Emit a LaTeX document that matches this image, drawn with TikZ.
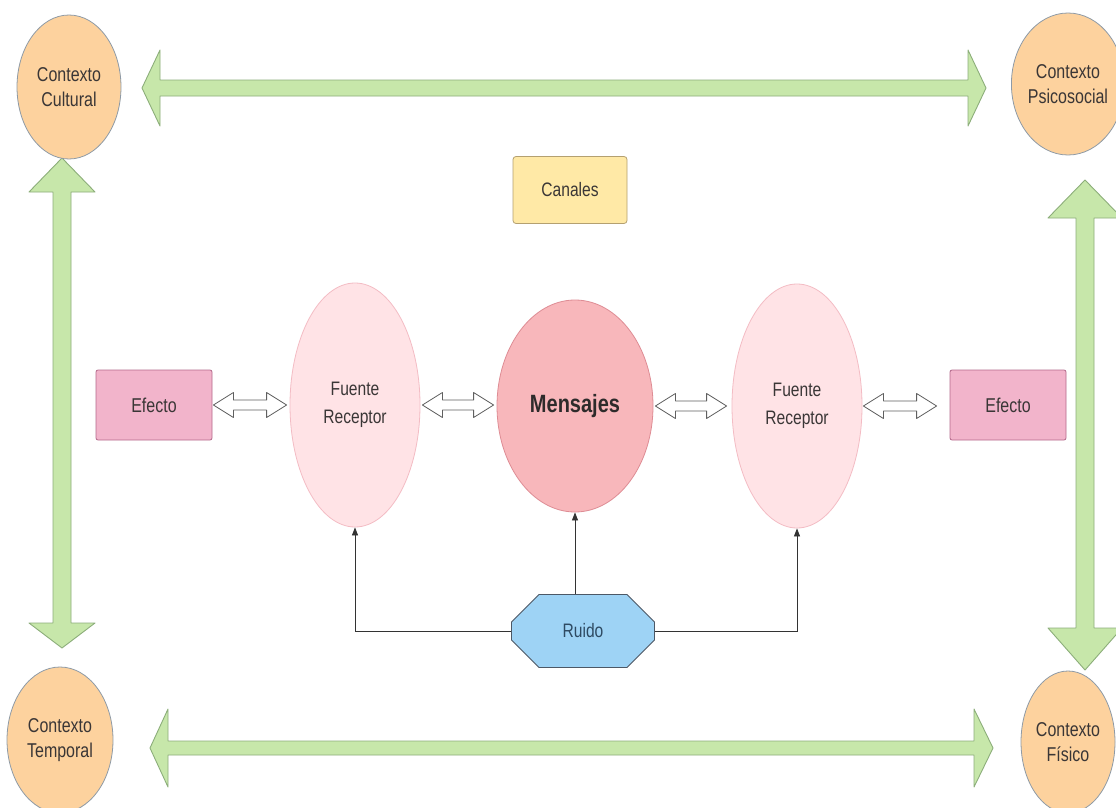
\documentclass[tikz,border=0pt]{standalone}
\usepackage{fontspec}
\setmainfont[FakeStretch=0.8]{Liberation Sans}
\usetikzlibrary{shapes.geometric,shapes.misc,arrows.meta,calc}

\definecolor{ctxfill}{HTML}{FDD29E}
\definecolor{ctxline}{HTML}{8E9AA6}
\definecolor{grfill}{HTML}{C7E7AA}
\definecolor{grline}{HTML}{8CAE7A}
\definecolor{canfill}{HTML}{FFE9A6}
\definecolor{canline}{HTML}{B4A070}
\definecolor{msfill}{HTML}{F8B7BB}
\definecolor{msline}{HTML}{DE8C94}
\definecolor{frfill}{HTML}{FFE3E6}
\definecolor{frline}{HTML}{F3BCC4}
\definecolor{effill}{HTML}{F2B4CB}
\definecolor{efline}{HTML}{B46A8C}
\definecolor{rufill}{HTML}{9ED3F5}
\definecolor{ruline}{HTML}{4C5866}
\definecolor{rutext}{HTML}{2E4A62}
\definecolor{txt}{HTML}{3A3636}

\tikzset{
  ctx/.style={ellipse, draw=ctxline, fill=ctxfill, line width=0.8pt, inner sep=0pt,
    align=center, text=txt, font=\fontsize{20}{25}\selectfont},
  greenarrow/.style={draw=grline, fill=grfill, line width=0.9pt, line join=round},
  fr/.style={ellipse, draw=frline, fill=frfill, line width=0.8pt, inner sep=0pt,
    minimum width=130pt, minimum height=244pt, align=center, text=txt,
    font=\fontsize{19.5}{28}\selectfont},
  efbox/.style={rectangle, rounded corners=2pt, draw=efline, fill=effill, line width=0.8pt,
    minimum width=116pt, minimum height=70pt, text=txt, font=\fontsize{20}{24}\selectfont},
  hollow/.style={draw=gray!75!black, fill=white, line width=0.8pt, line join=round},
  conn/.style={draw=black!80, line width=0.8pt, -{Triangle[length=8pt,width=6pt]}},
}

% double-headed hollow arrow between two anchors, with gaps at each end
\newcommand\dblarrow[4]{%
  \draw[hollow] let \p1=($(#1)+(#3,0)$), \p2=($(#2)-(#4,0)$) in
    (\x1,\y1) -- (\x1+20pt,\y1+12.5pt) -- (\x1+20pt,\y1+5pt) -- (\x2-20pt,\y1+5pt)
    -- (\x2-20pt,\y1+12.5pt) -- (\x2,\y1) -- (\x2-20pt,\y1-12.5pt) -- (\x2-20pt,\y1-5pt)
    -- (\x1+20pt,\y1-5pt) -- (\x1+20pt,\y1-12.5pt) -- cycle;}

\begin{document}
\begin{tikzpicture}[x=1pt,y=-1pt]
\useasboundingbox[fill=white] (0,0) rectangle (1116,808);

% large green double arrows around the frame
\draw[greenarrow] (142,88) -- (160,50) -- (160,80) -- (968,80) -- (968,50) -- (986,88)
  -- (968,126) -- (968,96) -- (160,96) -- (160,126) -- cycle;
\draw[greenarrow] (150,748) -- (168,709) -- (168,741) -- (974,741) -- (974,709) -- (993,748)
  -- (974,787) -- (974,755) -- (168,755) -- (168,787) -- cycle;
\draw[greenarrow] (62,158) -- (95,192) -- (71,192) -- (71,623) -- (95,623) -- (62,648)
  -- (29,623) -- (53,623) -- (53,192) -- (29,192) -- cycle;
\draw[greenarrow] (1085,180) -- (1122,218) -- (1094,218) -- (1094,628) -- (1122,628) -- (1085,670)
  -- (1048,628) -- (1076,628) -- (1076,218) -- (1048,218) -- cycle;

% context ellipses
\node[ctx, minimum width=104pt, minimum height=144pt] (cc) at (69,87) {Contexto\\Cultural};
\node[ctx, minimum width=100pt, minimum height=142pt] (cp) at (1068,84) {Contexto\\Psicosocial};
\node[ctx, minimum width=106pt, minimum height=146pt] (ct) at (60,740) {Contexto\\Temporal};
\node[ctx, minimum width=94pt, minimum height=142pt] (cf) at (1068,742) {Contexto\\Físico};

% channels
\node[rectangle, rounded corners=3pt, draw=canline, fill=canfill, line width=0.8pt,
  minimum width=114pt, minimum height=67pt, text=txt, font=\fontsize{19.5}{24}\selectfont]
  (can) at (570,190) {Canales};

% central chain
\node[efbox] (efl) at (154,405) {Efecto};
\node[fr] (fl) at (355,405) {Fuente\\Receptor};
\node[ellipse, draw=msline, fill=msfill, line width=0.8pt, inner sep=0pt,
  minimum width=156pt, minimum height=212pt, text=txt!80!black,
  font=\fontsize{25}{30}\selectfont\bfseries] (ms) at (575,406) {Mensajes};
\node[fr] (fr) at (797,406) {Fuente\\Receptor};
\node[efbox] (efr) at (1008,405) {Efecto};

\dblarrow{efl.east}{fl.west}{1pt}{3pt}
\dblarrow{fl.east}{ms.west}{2pt}{3pt}
\dblarrow{ms.east}{fr.west}{2pt}{5pt}
\dblarrow{fr.east}{efr.west}{1pt}{13pt}

% noise
\node[chamfered rectangle, chamfered rectangle xsep=44pt, chamfered rectangle ysep=23pt,
  draw=ruline, fill=rufill, line width=0.8pt, minimum width=143pt, minimum height=73pt,
  inner sep=0pt, text=rutext, font=\fontsize{19.5}{24}\selectfont]
  (ru) at (583,631) {Ruido};

\draw[conn] (ru.west) -| (fl.south);
\draw[conn] (ms.south |- ru.north) -- (ms.south);
\draw[conn] (ru.east) -| (fr.south);
\end{tikzpicture}
\end{document}
